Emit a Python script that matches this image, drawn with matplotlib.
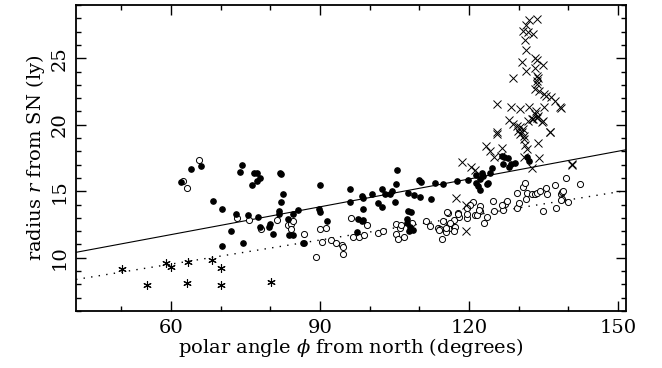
import numpy as np
import matplotlib
matplotlib.use("Agg")
import matplotlib.pyplot as plt
from matplotlib.ticker import MultipleLocator

plt.rcParams['font.family'] = 'DejaVu Serif'
plt.rcParams['mathtext.fontset'] = 'dejavuserif'

# filled circles
filled_phi = [62.0, 64.0, 66.1, 68.4, 70.2, 70.2, 72.0, 73.1, 73.9, 74.4, 74.6, 75.6,
              76.4, 76.8, 77.3, 77.3, 77.9, 77.6, 77.9, 79.9, 79.8, 80.6, 81.8, 81.8,
              81.9, 82.1, 82.5, 82.2, 83.6, 84.5, 85.5, 83.8, 84.5, 86.6, 86.8, 89.9,
              90.0, 90.0, 91.5, 96.0, 96.0, 97.4, 97.7, 98.4, 98.7, 98.5, 98.7, 98.6,
              100.4, 101.7, 102.4, 102.5, 103.1, 104.2, 104.6, 105.2, 105.3, 105.6,
              107.5, 107.8, 107.8, 108.3, 107.6, 108.2, 108.8, 108.0, 109.0, 110.0,
              110.3, 110.1, 112.3, 113.2, 114.8, 117.5, 119.9, 121.4, 121.5, 121.9,
              122.2, 122.2, 122.6, 122.9, 123.6, 123.8, 124.2, 124.6, 126.6, 127.0,
              127.9, 126.9, 128.0, 128.4, 129.3, 131.7, 132.1]
filled_r = [15.70, 16.68, 16.91, 14.27, 13.65, 10.88, 11.99, 13.27, 16.46, 16.99, 11.08, 13.19,
            15.48, 16.40, 16.36, 15.78, 15.98, 13.07, 12.31, 12.56, 12.34, 11.81, 13.52, 13.27,
            16.40, 16.28, 14.78, 14.20, 12.89, 13.32, 13.57, 11.69, 11.73, 11.13, 11.13, 13.65,
            13.44, 15.46, 12.77, 15.15, 14.20, 11.96, 12.89, 12.77, 12.84, 14.65, 14.48, 13.70,
            14.82, 14.10, 15.15, 13.80, 14.78, 14.78, 15.03, 14.20, 15.53, 16.61,
            12.89, 14.90, 13.52, 13.44, 12.60, 12.30, 12.10, 12.00, 14.72, 15.83,
            15.70, 14.57, 14.45, 15.65, 15.53, 15.78, 15.86, 16.23, 15.65, 15.40,
            15.91, 15.08, 16.41, 16.16, 15.53, 15.65, 16.41, 16.78, 17.66, 17.59,
            17.49, 17.04, 16.83, 17.04, 17.16, 17.54, 17.29]

# open circles
open_phi = [62.5, 63.2, 65.7, 73.4, 75.8, 78.1, 81.3, 83.5, 84.1, 84.5, 84.1, 86.8,
            89.3, 90.1, 91.3, 90.5, 92.2, 93.2, 94.4, 94.6, 94.6, 96.2, 96.7, 97.9,
            98.9, 99.5, 101.6, 102.6, 105.4, 106.1, 105.4, 105.8, 106.9, 106.3, 108.5,
            111.3, 112.1, 113.7, 114.2, 114.5, 114.8, 114.0, 115.4, 116.0, 116.4, 117.0,
            115.7, 117.7, 118.0, 119.7, 115.5, 116.9, 116.2, 117.2, 115.4, 117.0, 117.8,
            119.5, 120.9, 122.2, 120.2, 119.7, 122.2, 121.2, 121.7, 122.1, 123.1, 123.6,
            124.9, 125.1, 126.8, 127.2, 127.6, 126.7, 129.6, 130.1, 129.7, 131.5, 130.9,
            131.3, 131.6, 132.6, 133.3, 133.6, 134.3, 135.5, 135.8, 134.8, 137.3, 137.6,
            138.5, 138.7, 138.7, 139.0, 138.5, 139.5, 140.0, 142.3]
open_r = [15.80, 15.23, 17.36, 13.01, 12.84, 12.14, 12.84, 12.44, 12.52, 12.77, 12.14, 11.76,
          10.08, 12.14, 12.22, 11.16, 11.33, 11.13, 10.93, 10.30, 10.83, 12.97, 11.56, 11.58,
          11.69, 12.44, 11.84, 12.01, 12.52, 12.22, 11.76, 11.39, 11.58, 12.46, 12.64,
          12.77, 12.39, 12.22, 12.14, 11.39, 12.77, 12.09, 11.96, 12.46, 12.22, 12.34,
          13.35, 13.35, 13.09, 12.97, 13.47, 12.82, 12.64, 12.31, 12.26, 12.01, 13.27,
          13.27, 14.22, 13.90, 13.97, 13.72, 13.52, 13.22, 13.22, 13.59, 12.59, 13.07,
          14.27, 13.52, 13.59, 14.07, 14.27, 13.97, 13.72, 14.14, 14.90, 14.40, 15.33,
          15.65, 14.90, 14.78, 14.82, 14.90, 15.03, 15.28, 14.82, 13.52, 15.48, 13.77,
          14.78, 14.97, 14.40, 15.03, 14.35, 16.03, 14.22, 15.58]

# crosses
cross_phi = [132.1, 133.7, 131.5, 130.8, 131.9, 132.9, 131.3, 131.5, 130.6, 133.3, 133.6,
             134.9, 131.5, 133.2, 128.9, 133.6, 133.8, 133.6, 133.6, 133.2, 134.0, 135.0,
             135.5, 136.6, 137.3, 138.4, 125.7, 128.5, 130.3, 132.1, 135.0, 133.2, 133.6,
             134.6, 128.1, 128.9, 129.6, 130.3, 129.9, 130.6, 130.9, 131.9, 132.6, 136.4,
             125.7, 125.6, 130.3, 131.0, 136.3, 123.4, 124.3, 126.7, 131.3, 131.6, 133.8,
             134.1, 132.6, 140.7, 118.5, 120.5, 121.2, 117.4, 119.4, 119.3, 131.1, 138.5,
             132.8, 133.8, 134.8, 133.4, 125.1, 126.4, 131.0, 140.7]
cross_r = [27.91, 27.96, 27.46, 27.01, 26.96, 26.84, 26.38, 25.63, 24.70, 25.00, 24.88,
           24.50, 24.07, 24.24, 23.52, 23.64, 23.49, 23.32, 23.07, 22.69, 22.56, 22.31,
           22.19, 22.06, 21.81, 21.30, 21.56, 21.36, 21.18, 21.36, 21.36, 20.81, 20.47,
           20.23, 20.35, 20.05, 19.92, 19.80, 19.55, 19.47, 19.68, 20.30, 20.43, 19.47,
           19.42, 19.30, 19.34, 19.17, 19.47, 18.42, 18.04, 18.24, 18.49, 18.17, 18.62,
           17.49, 16.74, 17.04, 17.23, 16.83, 16.59, 14.48, 13.97, 12.00, 18.92, 21.26,
           20.43, 20.68, 20.30, 21.05, 17.54, 17.66, 17.54, 16.96]

# asterisks
star_phi = [50.1, 55.1, 59.1, 60.1, 63.5, 63.2, 68.3, 70.1, 70.1, 80.1]
star_r = [9.13, 7.92, 9.62, 9.32, 9.68, 8.12, 9.80, 9.20, 7.92, 8.17]

# linear fits, evaluated at the ends of the phi range
fit_phi = [40.9, 151.6]
fit_solid = [10.41, 18.12]
fit_dotted = [8.37, 15.05]

fig = plt.figure(figsize=(6.62, 3.68), dpi=100)
ax = fig.add_axes([0.1148, 0.1549, 0.8308, 0.8315])

ax.plot(fit_phi, fit_solid, color='black', lw=0.8)
ax.plot(fit_phi, fit_dotted, color='black', lw=1.0, linestyle=(0, (1, 4.5)))

ax.plot(open_phi, open_r, 'o', ms=4.4, mfc='white', mec='black', mew=0.7, ls='none')
ax.plot(filled_phi, filled_r, 'o', ms=3.8, color='black', ls='none')
ax.plot(cross_phi, cross_r, 'x', ms=5.5, color='black', mew=0.7, ls='none')
ax.plot(star_phi, star_r, marker=(6, 2, 0), ms=6, color='black', mew=0.8, ls='none')

ax.set_xlim(40.9, 151.6)
ax.set_ylim(6, 29)
ax.xaxis.set_major_locator(MultipleLocator(30))
ax.xaxis.set_minor_locator(MultipleLocator(10))
ax.yaxis.set_major_locator(MultipleLocator(5))
ax.yaxis.set_minor_locator(MultipleLocator(1))
ax.tick_params(which='both', direction='in', top=True, right=True, width=1.0, labelsize=14)
ax.tick_params(which='major', length=7)
ax.tick_params(which='minor', length=3.5)
ax.tick_params(axis='x', pad=6)
ax.tick_params(axis='y', labelrotation=90, pad=5)
for lbl in ax.get_yticklabels():
    lbl.set_va('center')
for s in ax.spines.values():
    s.set_linewidth(1.3)

ax.set_xlabel(r'polar angle $\phi$ from north (degrees)', fontsize=14, labelpad=-1)
ax.set_ylabel(r'radius $r$ from SN (ly)', fontsize=14, labelpad=3)

fig.savefig('out.png', dpi=100)
